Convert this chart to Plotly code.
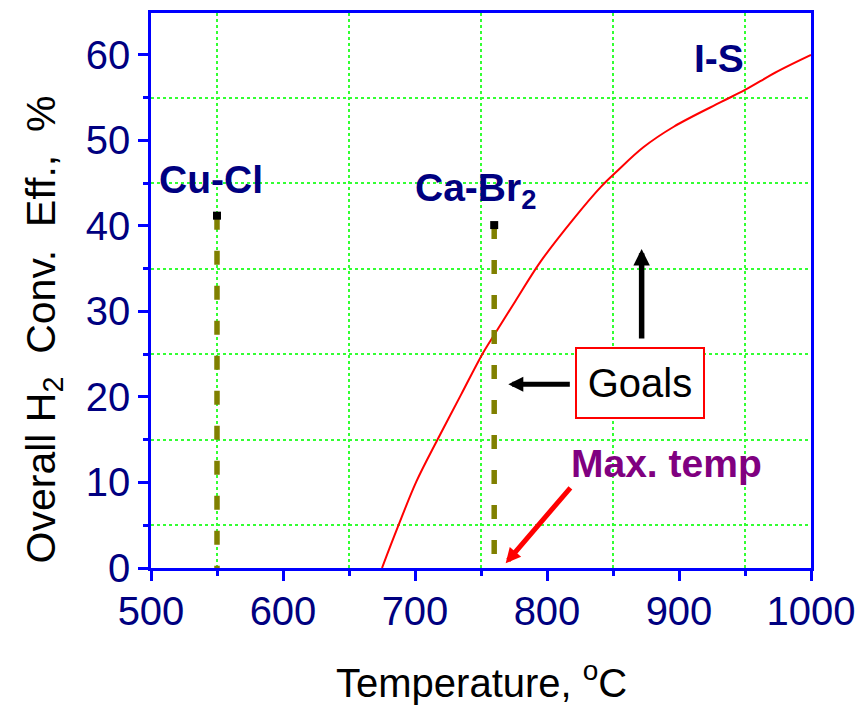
import plotly.graph_objects as go

# I-S efficiency curve
is_temp = [675, 687, 701, 717, 735, 751, 761, 776, 795, 820, 841, 853, 873, 896, 932, 950, 975, 1000]
is_eff = [0.0, 4.8, 10.1, 15.0, 20.3, 25.0, 27.5, 31.2, 35.8, 40.8, 44.6, 46.4, 49.2, 51.6, 54.5, 55.9, 58.1, 60.0]

# Goal points
goal_names = ["Cu-Cl", "Ca-Br2"]
goal_temp = [550, 760]
goal_eff = [41.2, 40.1]

x_ticks = [500, 600, 700, 800, 900, 1000]
y_ticks = [0, 10, 20, 30, 40, 50, 60]

FONT = "Liberation Sans, Arial, sans-serif"
NAVY = "#000080"
BLUE = "#0000FF"
GRID = "#33FF33"
OLIVE = "#808000"

fig = go.Figure()

fig.add_trace(go.Scatter(x=is_temp, y=is_eff, mode="lines",
                         line=dict(color="#FF0000", width=2, shape="spline", smoothing=1.0),
                         showlegend=False))

for t, e in zip(goal_temp, goal_eff):
    fig.add_trace(go.Scatter(x=[t, t], y=[e, 0], mode="lines",
                             line=dict(color=OLIVE, width=5.5, dash="14px,21px"),
                             showlegend=False))
fig.add_trace(go.Scatter(x=goal_temp, y=goal_eff, mode="markers",
                         marker=dict(symbol="square", color="black", size=8),
                         showlegend=False))

axis_common = dict(
    showline=True, linecolor=BLUE, linewidth=2.5, mirror=True,
    ticks="outside", ticklen=10, tickwidth=2.5, tickcolor=BLUE,
    tickfont=dict(family=FONT, size=40, color=NAVY),
    showgrid=False, zeroline=False,
)

fig.update_xaxes(range=[500, 1000], tickvals=x_ticks, ticklabelstandoff=-4, **axis_common,
                 minor=dict(dtick=100, tick0=550, ticks="outside", ticklen=5, tickwidth=2.5,
                            tickcolor=BLUE, showgrid=True, gridcolor=GRID,
                            griddash="dot", gridwidth=1.5))
fig.update_yaxes(range=[0, 64.9], tickvals=y_ticks, **axis_common,
                 minor=dict(dtick=10, tick0=5, ticks="outside", ticklen=5, tickwidth=2.5,
                            tickcolor=BLUE, showgrid=True, gridcolor=GRID,
                            griddash="dot", gridwidth=1.5))

ann = []
# axis titles
ann.append(dict(text="Temperature, <sup>o</sup>C", xref="paper", yref="paper",
                x=0.5, y=-0.2025, xanchor="center", yanchor="middle", showarrow=False,
                font=dict(family=FONT, size=40, color="black")))
ann.append(dict(text="Overall H<sub>2</sub> &nbsp;Conv. &nbsp;Eff., &nbsp;%", xref="paper", yref="paper",
                x=-0.162, y=0.43, xanchor="center", yanchor="middle", showarrow=False,
                textangle=-90, font=dict(family=FONT, size=41, color="black")))
# labels
ann.append(dict(text="<b>Cu-Cl</b>", x=545.5, y=45.4, showarrow=False,
                font=dict(family=FONT, size=39, color=NAVY)))
ann.append(dict(text="<b>Ca-Br<sub>2</sub></b>", x=745.5, y=44.2, showarrow=False,
                font=dict(family=FONT, size=39, color=NAVY)))
ann.append(dict(text="<b>I-S</b>", x=930, y=59.6, showarrow=False,
                font=dict(family=FONT, size=39, color=NAVY)))
ann.append(dict(text="<b>Max. temp</b>", x=890.5, y=12.2, showarrow=False,
                font=dict(family=FONT, size=39, color="#800080")))
ann.append(dict(text="Goals", x=870.5, y=21.66, showarrow=False,
                font=dict(family=FONT, size=40, color="black"),
                bordercolor="#FF0000", borderwidth=2, borderpad=1,
                width=124, height=66, bgcolor="white"))
# arrows
ann.append(dict(text="", x=871.7, y=37.3, ax=0, ay=91, axref="pixel", ayref="pixel",
                showarrow=True, arrowhead=2, arrowsize=0.6, arrowwidth=5.5, arrowcolor="black"))
ann.append(dict(text="", x=770.7, y=21.5, ax=63, ay=0, axref="pixel", ayref="pixel",
                showarrow=True, arrowhead=2, arrowsize=0.6, arrowwidth=5, arrowcolor="black"))
ann.append(dict(text="", x=768.7, y=0.55, ax=66, ay=-77, axref="pixel", ayref="pixel",
                showarrow=True, arrowhead=2, arrowsize=0.6, arrowwidth=5, arrowcolor="#FF0000"))

# page body has an 8px margin; compensate so the plot area lands where the reference has it
fig.update_layout(
    width=868, height=707,
    margin=dict(l=143, r=65, t=2, b=147),
    paper_bgcolor="white", plot_bgcolor="white",
    annotations=ann, showlegend=False,
)

fig.write_html("out.html")
